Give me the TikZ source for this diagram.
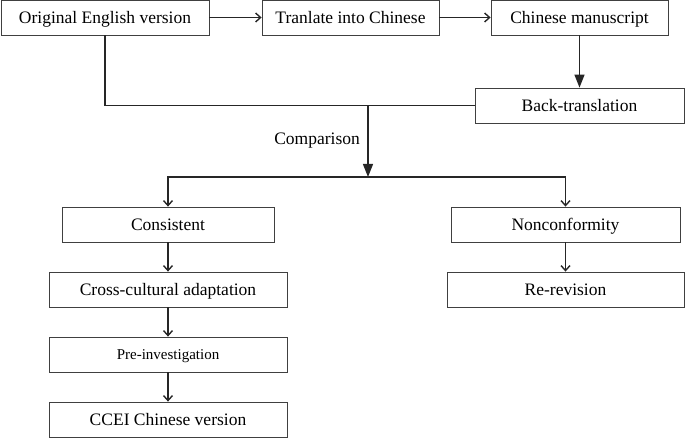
\documentclass[tikz,border=0pt]{standalone}
\usepackage{fontspec}
\setmainfont{Liberation Serif}
\usetikzlibrary{arrows.meta}
\begin{document}
\begin{tikzpicture}[x=1pt,y=-1pt,
 box/.style={draw=black!75, line width=0.8pt, fill=white, inner sep=0pt, minimum height=35pt, text height=14pt, text depth=2pt, font=\fontsize{17.5}{20}\selectfont},
 conn/.style={line width=1.4pt, draw=black!85},
 bigarr/.style={conn, -{Triangle[length=13pt,width=10pt]}},
 smallarr/.style={conn, -{Straight Barb[length=5pt,width=9pt]}}]
\useasboundingbox (0,0) rectangle (685,438);
\node[box, minimum width=208pt] (orig) at (105,17.5) {Original English version};
\node[box, minimum width=177pt] (tran) at (350.5,17.5) {Tranlate into Chinese};
\node[box, minimum width=177pt] (manu) at (579.5,17.5) {Chinese manuscript};
\node[box, minimum width=209pt] (back) at (579.5,105.5) {Back-translation};
\node[box, minimum width=212pt] (cons) at (168,224.5) {Consistent};
\node[box, minimum width=229pt] (nonc) at (565.5,224.5) {Nonconformity};
\node[box, minimum width=238pt] (cross) at (168,289.5) {Cross-cultural adaptation};
\node[box, minimum width=237pt] (rerev) at (565.5,289.5) {Re-revision};
\node[box, minimum width=238pt, text height=12pt, font=\fontsize{15}{18}\selectfont] (pre) at (168,354.5) {Pre-investigation};
\node[box, minimum width=238pt] (ccei) at (168,419.5) {CCEI Chinese version};
\node[anchor=east, inner sep=0pt, text height=14pt, text depth=2pt, font=\fontsize{17.5}{20}\selectfont] (cmp) at (360,139) {Comparison};
\coordinate (j1) at (368,105.5);
\coordinate (j2) at (368,177);
\draw[smallarr] (orig) -- (tran);
\draw[smallarr] (tran) -- (manu);
\draw[bigarr] (manu) -- (back);
\draw[conn] (orig.south) |- (back.west);
\draw[bigarr] (j1) -- (j2);
\draw[smallarr] (j2) -| (cons.north);
\draw[smallarr] (j2) -| (nonc.north);
\draw[smallarr] (cons) -- (cross);
\draw[smallarr] (cross) -- (pre);
\draw[smallarr] (pre) -- (ccei);
\draw[smallarr] (nonc) -- (rerev);
\end{tikzpicture}
\end{document}
